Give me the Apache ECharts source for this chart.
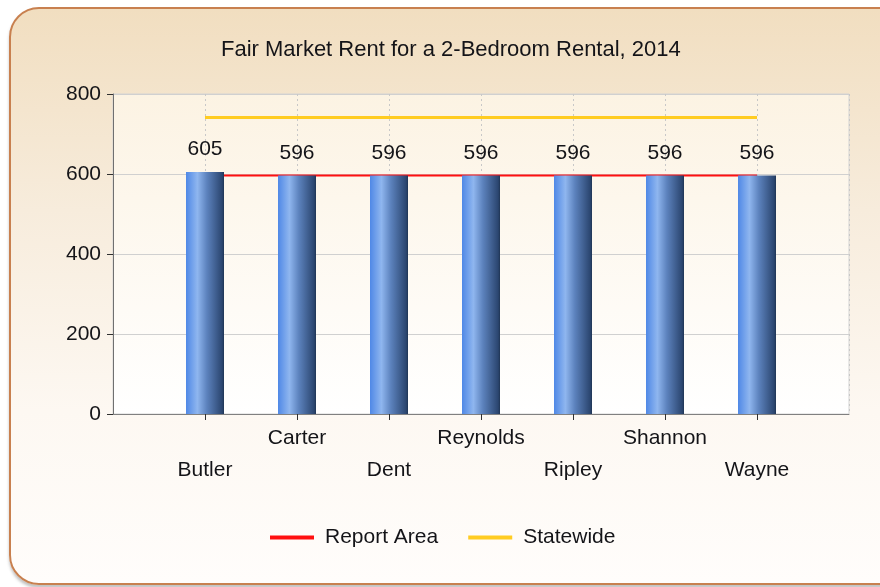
<!DOCTYPE html>
<html>
<head>
<meta charset="utf-8">
<script src="https://cdn.jsdelivr.net/npm/echarts@6/dist/echarts.min.js"></script>
<style>
  html, body { margin: 0; padding: 0; width: 880px; height: 587px; overflow: hidden; background: #fff; }
  #panel {
    position: absolute; left: 9px; top: 7px; width: 900px; height: 574px;
    border: 2px solid #c8804f; border-radius: 30px;
    background: linear-gradient(to bottom, #f1dec0 0%, #f7ecdc 35%, #fdf8f2 70%, #fffdfb 100%);
    box-shadow: 0 3px 3px rgba(120,120,120,0.45);
  }
  #chart { position: absolute; left: 0; top: 0; width: 880px; height: 587px; }
</style>
</head>
<body>
<div id="panel"></div>
<div id="chart"></div>
<script>
// data
var counties = ['Butler', 'Carter', 'Dent', 'Reynolds', 'Ripley', 'Shannon', 'Wayne'];
var rentValues = [605, 596, 596, 596, 596, 596, 596];
var reportArea = [596, 596, 596, 596, 596, 596, 596];
var statewide = [741, 741, 741, 741, 741, 741, 741];
var yTicks = [0, 200, 400, 600, 800];

var font = 'Liberation Sans, Arial, sans-serif';
var txt = '#141418';
var chartObj = echarts.init(document.getElementById('chart'));

function pairs(arr) {
  return arr.map(function (v, i) { return [i + 1, v]; });
}

var option = {
  backgroundColor: 'transparent',
  animation: false,
  textStyle: { fontFamily: font },
  title: {
    text: 'Fair Market Rent for a 2-Bedroom Rental, 2014',
    left: 216,
    top: 34,
    textStyle: { fontSize: 22, fontWeight: 'normal', color: txt, fontFamily: font }
  },
  legend: {
    bottom: 34,
    left: 265,
    itemWidth: 44,
    itemHeight: 4,
    itemGap: 30,
    icon: 'rect',
    textStyle: { fontSize: 21, color: txt, fontFamily: font, padding: [0, 0, 0, 6] },
    data: ['Report Area', 'Statewide']
  },
  grid: {
    left: 113,
    right: 31,
    top: 94,
    bottom: 173,
    show: true,
    borderColor: '#d4d4d4',
    borderWidth: 1,
    backgroundColor: new echarts.graphic.LinearGradient(0, 0, 0, 1, [
      { offset: 0, color: '#fcf3e3' },
      { offset: 1, color: '#ffffff' }
    ])
  },
  xAxis: {
    type: 'value',
    min: 0,
    max: counties.length + 1,
    interval: 1,
    axisLine: { show: true, lineStyle: { color: '#808080', width: 1 } },
    axisTick: { show: true, length: 6, lineStyle: { color: '#303030' } },
    splitLine: {
      show: true,
      lineStyle: { color: '#c8c8c8', type: [2, 3] }
    },
    axisLabel: {
      margin: 8,
      fontSize: 21,
      color: txt,
      lineHeight: 32,
      showMinLabel: false,
      showMaxLabel: false,
      formatter: function (v) {
        var name = counties[v - 1];
        if (!name) return '';
        return (v % 2 === 1) ? '\n' + name : name;
      }
    }
  },
  yAxis: {
    type: 'value',
    min: yTicks[0],
    max: yTicks[yTicks.length - 1],
    interval: 200,
    axisLine: { show: true, lineStyle: { color: '#707070', width: 1 } },
    axisTick: { show: true, length: 6, lineStyle: { color: '#303030' } },
    splitLine: { show: true, lineStyle: { color: '#d0d0d0', type: 'solid' } },
    axisLabel: { fontSize: 21, color: txt, margin: 12 }
  },
  series: [
    {
      name: 'Report Area',
      type: 'line',
      data: pairs(reportArea),
      symbol: 'none',
      z: 1,
      lineStyle: { color: '#ff1010', width: 2 },
      itemStyle: { color: '#ff1010' }
    },
    {
      name: 'Rent',
      type: 'bar',
      data: pairs(rentValues),
      barWidth: 38,
      z: 3,
      itemStyle: {
        color: new echarts.graphic.LinearGradient(0, 0, 1, 0, [
          { offset: 0, color: '#4f88e6' },
          { offset: 0.3, color: '#8fb6ef' },
          { offset: 0.55, color: '#5c82bd' },
          { offset: 0.95, color: '#2b4670' },
          { offset: 1, color: '#1f3554' }
        ])
      },
      label: {
        show: true,
        position: 'top',
        distance: 12,
        fontSize: 21,
        color: txt,
        fontFamily: font
      }
    },
    {
      name: 'Statewide',
      type: 'line',
      data: pairs(statewide),
      symbol: 'none',
      z: 2,
      lineStyle: { color: '#ffcc22', width: 3 },
      itemStyle: { color: '#ffcc22' }
    }
  ]
};

chartObj.setOption(option);
</script>
</body>
</html>
